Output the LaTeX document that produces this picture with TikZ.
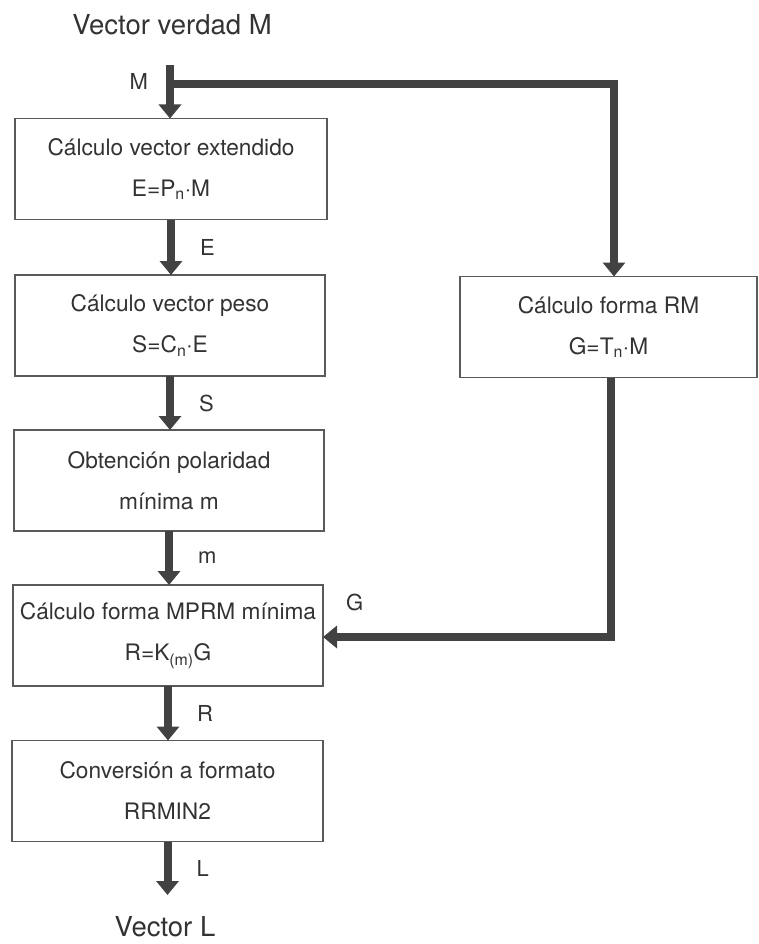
\documentclass[tikz,border=0pt]{standalone}
\usepackage{fontspec}
\setmainfont{TeX Gyre Heros}
\usetikzlibrary{arrows.meta}

\definecolor{inkgray}{HTML}{333333}
\definecolor{flowgray}{HTML}{424242}
\definecolor{boxgray}{HTML}{5A5A5A}

\tikzset{
    procbox/.style={draw=boxgray, line width=1.1pt, outer sep=0pt, inner sep=0pt,
        minimum height=101pt, align=center, text=inkgray,
        font=\fontsize{22.7}{41}\selectfont},
    flow/.style={draw=flowgray, line width=8pt, line join=miter,
        -{Triangle[width=22pt,length=14pt]}},
    lbl/.style={text=inkgray, inner sep=0pt, font=\fontsize{22}{26}\selectfont},
    endtext/.style={text=inkgray, inner sep=0pt, font=\fontsize{27.5}{32}\selectfont}
}

\begin{document}
\begin{tikzpicture}[x=1pt, y=-1pt]
            \useasboundingbox (0,0) rectangle (759,944);

            % Input and output texts
            \node[endtext] (title) at (172,25) {Vector verdad M};
            \node[endtext] (vecL) at (165,927) {Vector L};

            % Main column of steps
            \node[procbox, minimum width=312pt] (ext) at (171,169) {Cálculo vector extendido\\E=P\textsubscript{n}·M};
            \node[procbox, minimum width=310pt] (peso) at (170,325.5) {Cálculo vector peso\\S=C\textsubscript{n}·E};
            \node[procbox, minimum width=310pt] (pol) at (169,480.5) {Obtención polaridad\\mínima m};
            \node[procbox, minimum width=310pt] (mprm) at (168,635.5) {Cálculo forma MPRM mínima\\R=K\textsubscript{(m)}G};
            \node[procbox, minimum width=311pt] (conv) at (167.5,791) {Conversión a formato\\RRMIN2};

            % Side step
            \node[procbox, minimum width=297pt] (rm) at (608.5,327) {Cálculo forma RM\\G=T\textsubscript{n}·M};

            % Corners of the connectors
            \coordinate (mtop) at (170,65);
            \coordinate (corner) at (614,84.5);
            \coordinate (gturn) at (611,637);
            \coordinate (lend) at (166,895);

            % Input arrow and branch to the side step
            \draw[flow] (mtop) -- (mtop |- ext.north)
                node[lbl, pos=0.3, left=18pt] (lblM) {M};
            \draw[flow] (mtop |- corner) -- (corner) -- (corner |- rm.north);

            % Arrows down the main column
            \foreach \a/\b/\l in {ext/peso/E, peso/pol/S, pol/mprm/m, mprm/conv/R} {
                \draw[flow] (\a.south) -- (\a.south |- \b.north)
                    node[lbl, midway, anchor=west, xshift=25pt] (lbl\l) {\l};
            }

            % Side step back into the main column
            \draw[flow] (gturn |- rm.south) -- (gturn) -- (mprm.east |- gturn)
                node[lbl, pos=0.89, above=22pt] (lblG) {G};

            % Output arrow
            \draw[flow] (conv.south) -- (conv.south |- lend)
                node[lbl, midway, anchor=west, xshift=25pt] (lblL) {L};
        \end{tikzpicture}
\end{document}
